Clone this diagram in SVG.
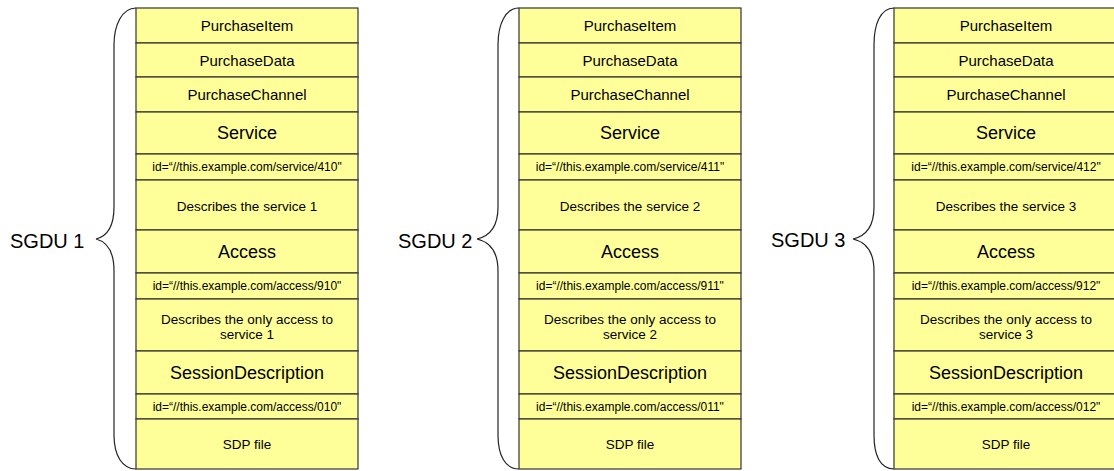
<svg xmlns="http://www.w3.org/2000/svg" width="1114" height="471" viewBox="0 0 1114 471">
<style>
.cell{fill:#ffff99;stroke:#333333;stroke-width:1.2}
.brace{fill:none;stroke:#222222;stroke-width:1.2}
text{font-family:"Liberation Sans",Arial,sans-serif;fill:#000000;text-anchor:middle}
.t15{font-size:15px}
.t18{font-size:18px}
.t12{font-size:12px}
.t13{font-size:13.5px}
.lbl{font-size:20px;text-anchor:start}
</style>
<rect width="1114" height="471" fill="#ffffff"/>
<g id="connectors">
<path class="brace" d="M136,8 C122,8 114,25 114,45 L114,207 C114,226 108,236 96,239 C108,242 114,252 114,271 L114,435 C114,455 122,469 136,469"/>
<path class="brace" d="M519,8 C505,8 498,25 498,45 L498,207 C498,226 490,236 477,239 C490,242 498,252 498,271 L498,435 C498,455 505,469 519,469"/>
<path class="brace" d="M894,8 C880,8 874,25 874,45 L874,207 C874,226 866,236 853,239 C866,242 874,252 874,271 L874,435 C874,455 880,469 894,469"/>
</g>
<g id="label1"><text class="lbl" x="10" y="248">SGDU 1</text></g>
<g id="label2"><text class="lbl" x="398" y="248">SGDU 2</text></g>
<g id="label3"><text class="lbl" x="771" y="247">SGDU 3</text></g>
<g id="sgdu1">
<rect class="cell" x="136" y="8" width="222" height="35"/>
<rect class="cell" x="136" y="43" width="222" height="34"/>
<rect class="cell" x="136" y="77" width="222" height="35"/>
<rect class="cell" x="136" y="112" width="222" height="42"/>
<rect class="cell" x="136" y="154" width="222" height="26"/>
<rect class="cell" x="136" y="180" width="222" height="50"/>
<rect class="cell" x="136" y="230" width="222" height="43"/>
<rect class="cell" x="136" y="273" width="222" height="26"/>
<rect class="cell" x="136" y="299" width="222" height="52"/>
<rect class="cell" x="136" y="351" width="222" height="43"/>
<rect class="cell" x="136" y="394" width="222" height="25"/>
<rect class="cell" x="136" y="419" width="222" height="50"/>
<text class="t15" x="247" y="31">PurchaseItem</text>
<text class="t15" x="247" y="65.5">PurchaseData</text>
<text class="t15" x="247" y="100">PurchaseChannel</text>
<text class="t18" x="247" y="139.4">Service</text>
<text class="t12" x="247" y="171">id=“//this.example.com/service/410"</text>
<text class="t13" x="247" y="211">Describes the service 1</text>
<text class="t18" x="247" y="258">Access</text>
<text class="t12" x="247" y="290.3">id=“//this.example.com/access/910"</text>
<text class="t13" x="247" y="323.5">Describes the only access to</text>
<text class="t13" x="247" y="339">service 1</text>
<text class="t18" x="247" y="378.8">SessionDescription</text>
<text class="t12" x="247" y="410.8">id=“//this.example.com/access/010"</text>
<text class="t13" x="247" y="449">SDP file</text>
</g>
<g id="sgdu2">
<rect class="cell" x="519" y="8" width="222" height="35"/>
<rect class="cell" x="519" y="43" width="222" height="34"/>
<rect class="cell" x="519" y="77" width="222" height="35"/>
<rect class="cell" x="519" y="112" width="222" height="42"/>
<rect class="cell" x="519" y="154" width="222" height="26"/>
<rect class="cell" x="519" y="180" width="222" height="50"/>
<rect class="cell" x="519" y="230" width="222" height="43"/>
<rect class="cell" x="519" y="273" width="222" height="26"/>
<rect class="cell" x="519" y="299" width="222" height="52"/>
<rect class="cell" x="519" y="351" width="222" height="43"/>
<rect class="cell" x="519" y="394" width="222" height="25"/>
<rect class="cell" x="519" y="419" width="222" height="50"/>
<text class="t15" x="630" y="31">PurchaseItem</text>
<text class="t15" x="630" y="65.5">PurchaseData</text>
<text class="t15" x="630" y="100">PurchaseChannel</text>
<text class="t18" x="630" y="139.4">Service</text>
<text class="t12" x="630" y="171">id=“//this.example.com/service/411"</text>
<text class="t13" x="630" y="211">Describes the service 2</text>
<text class="t18" x="630" y="258">Access</text>
<text class="t12" x="630" y="290.3">id=“//this.example.com/access/911"</text>
<text class="t13" x="630" y="323.5">Describes the only access to</text>
<text class="t13" x="630" y="339">service 2</text>
<text class="t18" x="630" y="378.8">SessionDescription</text>
<text class="t12" x="630" y="410.8">id=“//this.example.com/access/011"</text>
<text class="t13" x="630" y="449">SDP file</text>
</g>
<g id="sgdu3">
<rect class="cell" x="894" y="8" width="224" height="35"/>
<rect class="cell" x="894" y="43" width="224" height="34"/>
<rect class="cell" x="894" y="77" width="224" height="35"/>
<rect class="cell" x="894" y="112" width="224" height="42"/>
<rect class="cell" x="894" y="154" width="224" height="26"/>
<rect class="cell" x="894" y="180" width="224" height="50"/>
<rect class="cell" x="894" y="230" width="224" height="43"/>
<rect class="cell" x="894" y="273" width="224" height="26"/>
<rect class="cell" x="894" y="299" width="224" height="52"/>
<rect class="cell" x="894" y="351" width="224" height="43"/>
<rect class="cell" x="894" y="394" width="224" height="25"/>
<rect class="cell" x="894" y="419" width="224" height="50"/>
<text class="t15" x="1006" y="31">PurchaseItem</text>
<text class="t15" x="1006" y="65.5">PurchaseData</text>
<text class="t15" x="1006" y="100">PurchaseChannel</text>
<text class="t18" x="1006" y="139.4">Service</text>
<text class="t12" x="1006" y="171">id=“//this.example.com/service/412"</text>
<text class="t13" x="1006" y="211">Describes the service 3</text>
<text class="t18" x="1006" y="258">Access</text>
<text class="t12" x="1006" y="290.3">id=“//this.example.com/access/912"</text>
<text class="t13" x="1006" y="323.5">Describes the only access to</text>
<text class="t13" x="1006" y="339">service 3</text>
<text class="t18" x="1006" y="378.8">SessionDescription</text>
<text class="t12" x="1006" y="410.8">id=“//this.example.com/access/012"</text>
<text class="t13" x="1006" y="449">SDP file</text>
</g>
</svg>
